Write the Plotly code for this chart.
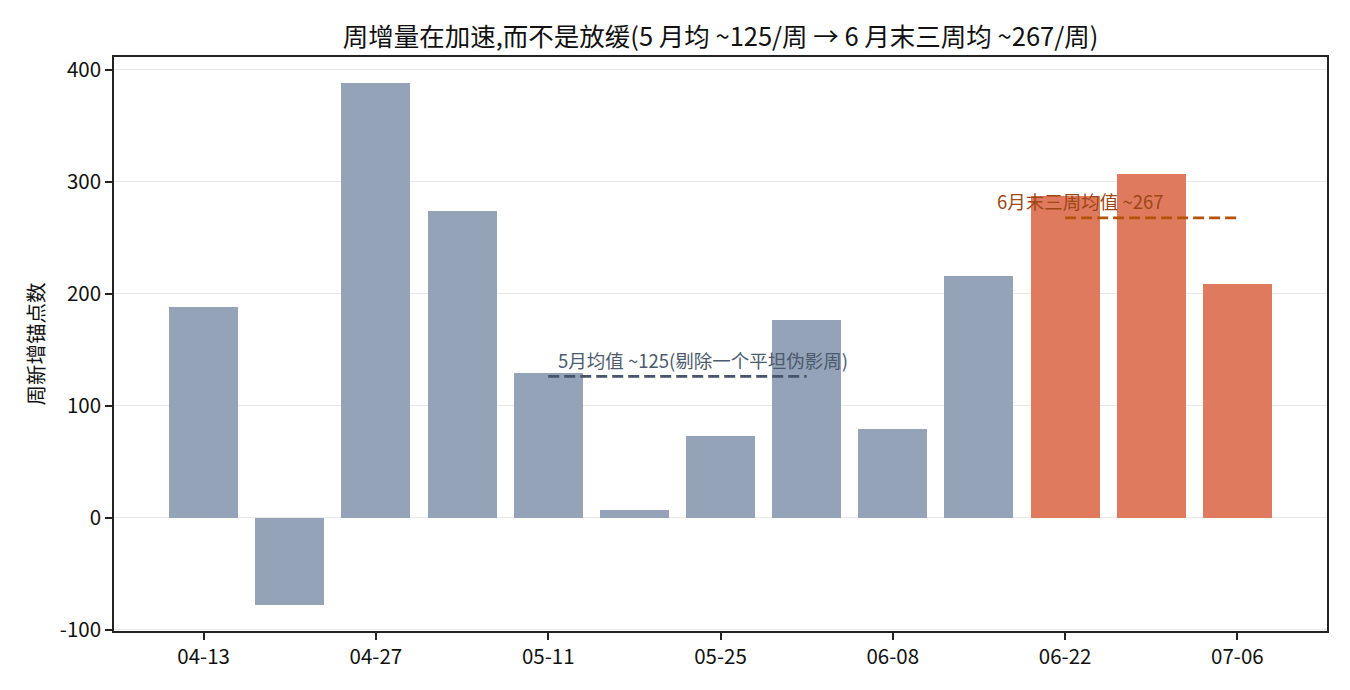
import plotly.graph_objects as go

weeks = ["04-13", "04-20", "04-27", "05-04", "05-11", "05-18", "05-25",
         "06-01", "06-08", "06-15", "06-22", "06-29", "07-06"]
values = [188, -78, 388, 274, 129, 7, 73, 176, 79, 216, 287, 307, 209]
highlight = [False] * 10 + [True] * 3

may_idx = [4, 6, 7]          # 05-11..06-01, excluding flat artifact week 05-18
may_span = [4, 7]
june_idx = [10, 11, 12]
june_span = [10, 12]

may_mean = sum(values[i] for i in may_idx) / len(may_idx)
june_mean = sum(values[i] for i in june_idx) / len(june_idx)

x = list(range(len(weeks)))
colors = ["#e07a5f" if h else "#94a3b8" for h in highlight]

FONT = "Noto Sans CJK SC, Noto Sans, sans-serif"

fig = go.Figure()
fig.add_trace(go.Bar(x=x, y=values, marker=dict(color=colors, line=dict(width=0)),
                     width=0.8, showlegend=False))
fig.add_trace(go.Scatter(x=may_span, y=[may_mean, may_mean], mode="lines",
                         line=dict(color="#475569", dash="11px,5px", width=2.7), showlegend=False))
fig.add_trace(go.Scatter(x=june_span, y=[june_mean, june_mean], mode="lines",
                         line=dict(color="#b45309", dash="11px,5px", width=2.7), showlegend=False))

fig.add_annotation(x=may_span[0] + 0.09, y=may_mean + 15, text="5月均值 ~125(剔除一个平坦伪影周)",
                   showarrow=False, xanchor="left", yanchor="middle",
                   font=dict(size=18.5, color="#4b5a6e", family=FONT))
fig.add_annotation(x=june_span[0] - 0.81, y=june_mean + 15, text="6月末三周均值 ~267",
                   showarrow=False, xanchor="left", yanchor="middle",
                   font=dict(size=18.5, color="#9c4714", family=FONT))

fig.update_layout(
    width=1350, height=690,
    margin=dict(l=114, r=23, t=57, b=59),
    paper_bgcolor="white", plot_bgcolor="white",
    font=dict(family=FONT, color="#111111", size=21),
    title=dict(text="周增量在加速,而不是放缓(5 月均 ~125/周 → 6 月末三周均 ~267/周)",
               x=0.5 * (114 + 1327) / 1350, xanchor="center", y=1 - 37 / 690, yanchor="middle",
               font=dict(size=25.5, color="#111111", family=FONT)),
    xaxis=dict(range=[-1.04, 13.04], tickmode="array", tickvals=x[::2], ticktext=weeks[::2],
               showgrid=False, zeroline=False, showline=True, linecolor="#222222", linewidth=1.6,
               mirror=True, ticks="outside", ticklen=7, tickwidth=1.6, tickcolor="#222222",
               tickfont=dict(size=20.5, family=FONT)),
    yaxis=dict(range=[-101.3, 411.3], tickvals=[-100, 0, 100, 200, 300, 400],
               ticktext=["-100", "0", "100", "200", "300", "400"],
               showgrid=True, gridcolor="#e8e8e8", gridwidth=1.2, zeroline=False,
               showline=True, linecolor="#222222", linewidth=1.6, mirror=True,
               ticks="outside", ticklen=7, tickwidth=1.6, tickcolor="#222222",
               tickfont=dict(size=20.5, family=FONT),
               title=dict(text="周新增锚点数", font=dict(size=20.5, family=FONT), standoff=10)),
    bargap=0,
)

fig.write_html("out.html")
